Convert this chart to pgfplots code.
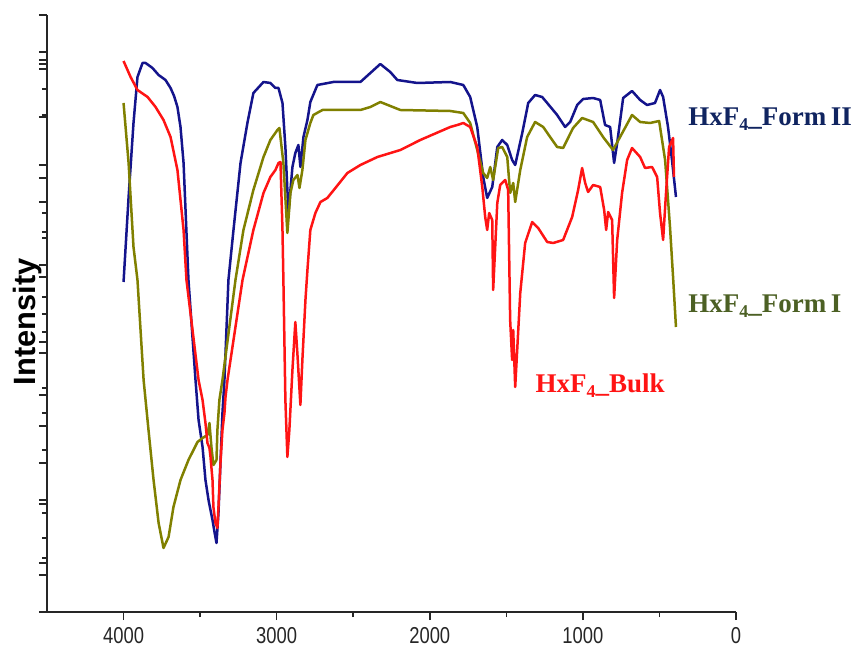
\documentclass[border=0pt]{standalone}
\usepackage{fontspec}
\usepackage{pgfplots}
\pgfplotsset{compat=1.18}
\setmainfont{Liberation Serif}
\newfontfamily\labelsans{Liberation Sans}
\newfontfamily\ticksans[FakeStretch=0.8]{Liberation Sans}

\definecolor{formII}{RGB}{20,20,140}
\definecolor{formI}{RGB}{128,128,0}
\definecolor{bulk}{RGB}{255,20,20}
\definecolor{formIItext}{RGB}{16,36,96}
\definecolor{formItext}{RGB}{76,96,36}

% bold subscript four used in the sample names
\newcommand{\subfour}{\raisebox{-2.5pt}{\fontsize{9}{9}\selectfont 4}}

\begin{document}
\begin{tikzpicture}
\path[use as bounding box] (0,0) rectangle (430.5pt,324pt);
\begin{axis}[
  at={(23.5pt,18pt)}, anchor=south west,
  scale only axis, width=344.5pt, height=298.5pt,
  x dir=reverse, xmin=0, xmax=4500, ymin=0, ymax=597,
  axis lines=left, axis line style={-, line width=0.9pt, black!85},
  xtick={0,1000,2000,3000,4000},
  minor xtick={500,1500,2500,3500},
  ytick={0,37,49,108,112,149,186,217,259,270,335,347,410,434,447,495,543,548,552,560,597},
  minor ytick={54,74,99,162,199,224,280,298,315,374,380,399,497,523},
  yticklabels={},
  tick align=outside,
  major tick length=4pt, minor tick length=2.5pt,
  every tick/.style={black!85, line width=0.8pt},
  /pgf/number format/assume math mode=true,
  /pgf/number format/1000 sep={},
  xticklabel style={font=\ticksans\fontsize{11.5}{12}\selectfont, black!85},
  ylabel={Intensity},
  every axis y label/.style={at={(axis description cs:-0.016,0.486)}, rotate=90, anchor=base,
    font=\labelsans\bfseries\fontsize{15.4}{16}\selectfont},
  clip=false,
  every axis plot/.append style={line width=1.25pt, line join=round},
]
% Form II
\addplot[color=formII, mark=none] coordinates {
(4000,330) (3967,415) (3935,489) (3909,535) (3876,549) (3856,549) (3811,544) (3771,537)
(3726,532) (3693,524) (3670,516) (3648,505) (3628,485) (3608,449) (3576,332) (3530,232) (3510,192) (3484,165)
(3465,132) (3445,112) (3419,92) (3406,80) (3393,69) (3380,99) (3367,149) (3354,199)
(3341,232) (3315,332) (3282,382) (3236,449) (3191,489) (3152,519) (3086,530) (3041,529)
(3008,524) (2988,524) (2962,509) (2943,465) (2923,399) (2897,445) (2878,459) (2858,467)
(2845,445) (2825,475) (2799,492) (2780,510) (2734,527) (2630,530) (2453,530) (2388,539) (2323,548)
(2258,540) (2212,532) (2081,529) (1866,530) (1781,527) (1736,515) (1690,485) (1651,435)
(1625,414) (1592,425) (1559,465) (1527,472) (1494,467) (1462,452) (1442,447) (1396,479)
(1357,509) (1312,517) (1266,515) (1233,509) (1168,497) (1116,485) (1083,490) (1037,507)
(998,513) (933,514) (887,512) (855,487) (822,485) (796,449) (776,469) (737,514)
(679,521) (626,512) (581,507) (529,509) (496,522) (476,515) (444,485) (418,452) (392,415)
};
% Form I
\addplot[color=formI, mark=none] coordinates {
(4000,509) (3967,449) (3935,365) (3909,332) (3869,232) (3837,182) (3804,132) (3771,89)
(3739,64) (3706,75) (3674,105) (3628,132) (3576,152) (3517,170) (3484,174) (3452,177)
(3439,189) (3426,165) (3413,147) (3393,152) (3387,182) (3374,212) (3354,232) (3269,332)
(3217,382) (3152,422) (3086,455) (3041,472) (2995,482) (2982,484) (2956,449) (2936,395)
(2930,379) (2910,419) (2891,432) (2864,437) (2851,424) (2832,442) (2812,472) (2780,489) (2760,497)
(2701,502) (2630,502) (2453,502) (2388,505) (2323,510) (2258,506) (2192,502) (1866,501)
(1781,499) (1736,489) (1690,462) (1651,439) (1625,434) (1605,445) (1586,432) (1553,464)
(1527,465) (1494,455) (1475,419) (1455,429) (1442,410) (1409,442) (1364,475) (1312,490)
(1259,485) (1214,475) (1168,465) (1129,464) (1064,484) (1005,494) (933,490) (868,475)
(803,462) (757,475) (679,497) (626,490) (561,489) (502,491) (463,452) (431,385) (411,335) (392,285)
};
% Bulk
\addplot[color=bulk, mark=none] coordinates {
(4000,551) (3954,535) (3909,522) (3843,515) (3791,505) (3739,492) (3693,475) (3648,442)
(3608,382) (3589,332) (3510,232) (3484,212) (3465,189) (3452,169) (3439,164) (3432,155)
(3419,132) (3413,105) (3400,89) (3387,84) (3380,105) (3367,149) (3354,182) (3341,199)
(3334,215) (3321,232) (3223,332) (3152,382) (3086,419) (3041,435) (3008,442) (2988,449)
(2975,450) (2962,382) (2956,332) (2943,212) (2930,155) (2917,182) (2897,242) (2878,290)
(2864,257) (2845,207) (2832,252) (2812,312) (2799,342) (2780,382) (2747,399) (2714,410) (2669,414)
(2538,439) (2453,447) (2342,455) (2192,462) (2062,472) (1866,485) (1820,487) (1781,489)
(1736,485) (1690,465) (1657,425) (1638,395) (1625,382) (1612,399) (1592,392) (1586,322)
(1559,409) (1540,427) (1507,432) (1488,422) (1475,292) (1462,252) (1455,282) (1442,225)
(1429,262) (1409,319) (1377,369) (1331,390) (1292,384) (1233,370) (1194,369) (1129,372)
(1070,395) (1031,422) (1005,444) (985,429) (966,420) (933,427) (887,425) (861,402)
(848,382) (835,400) (809,392) (796,314) (776,372) (744,419) (711,452) (679,464)
(626,455) (594,444) (548,445) (515,435) (496,399) (476,372) (457,419) (437,465)
(411,474) (405,435)
};
\node[anchor=base west, inner sep=0pt, text=formIItext, font=\bfseries\fontsize{13.5}{14}\selectfont]
  at (axis cs:313,486) {HxF\subfour\_Form\,II};
\node[anchor=base west, inner sep=0pt, text=formItext, font=\bfseries\fontsize{13.5}{14}\selectfont]
  at (axis cs:313,299) {HxF\subfour\_Form\,I};
\node[anchor=base west, inner sep=0pt, text=bulk, font=\bfseries\fontsize{13.5}{14}\selectfont]
  at (axis cs:1312,219) {HxF\subfour\_Bulk};
\end{axis}
\end{tikzpicture}
\end{document}
